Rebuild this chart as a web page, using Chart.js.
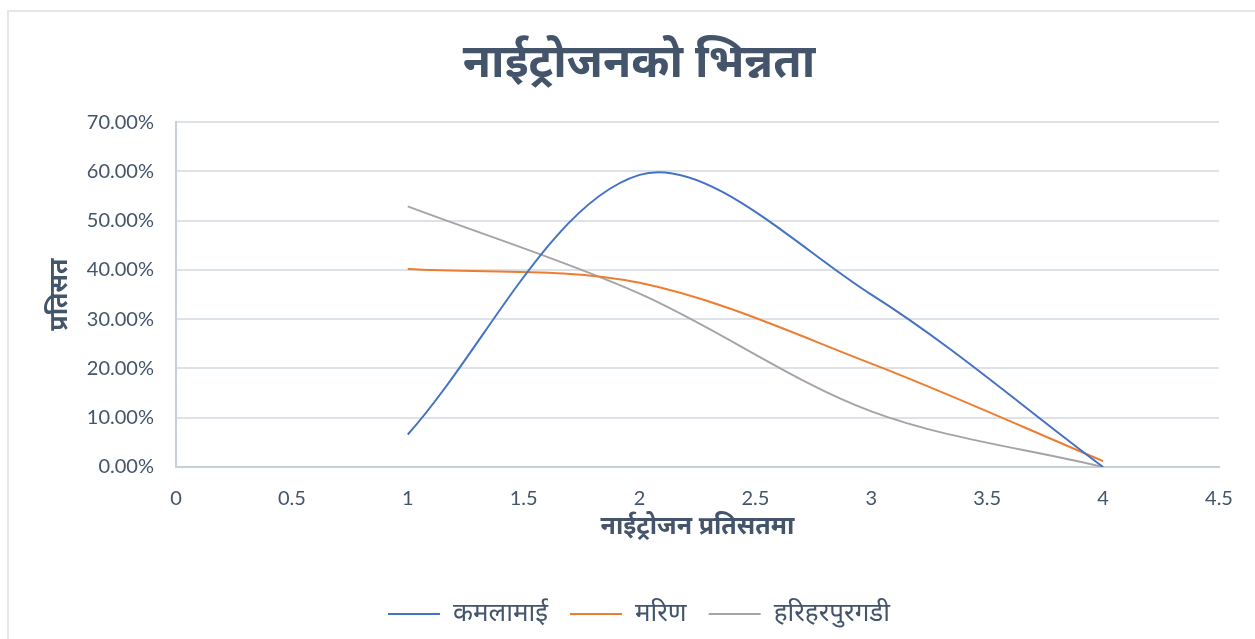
<!DOCTYPE html>
<html>
<head>
<meta charset="utf-8">
<script src="https://cdn.jsdelivr.net/npm/chart.js@4.4.0/dist/chart.umd.min.js"></script>
<style>
  html, body { margin: 0; padding: 0; background: #fff; overflow: hidden; }
  #wrap { position: absolute; left: 0; top: 0; width: 1255px; height: 639px; }
  #frame { position: absolute; left: 7px; top: 10px; width: 1300px; height: 700px; border: 2px solid #E3E6EA; }
</style>
</head>
<body>
<div id="wrap">
  <div id="frame"></div>
  <canvas id="chart1" width="1255" height="639"></canvas>
</div>
<script>
// नाईट्रोजन प्रतिसत (x) र प्रतिसत मान (y)
var nitrogen = [1, 2, 3, 4];
var kamalamai = [6.6, 59.3, 35.0, 0];
var marin = [40.2, 37.4, 21.0, 1.2];
var hariharpurgadi = [52.9, 35.2, 11.3, 0];

var seriesNames = ['कमलामाई', 'मरिण', 'हरिहरपुरगडी'];
var seriesColors = ['#4472C4', '#ED7D31', '#A5A5A5'];
var yTicks = [0, 10, 20, 30, 40, 50, 60, 70];

var textColor = '#44546A';
var devFont = "'Noto Sans', 'Noto Sans Devanagari', sans-serif";
var numFont = "Lato, 'Open Sans', sans-serif";

function points(ys) {
    return nitrogen.map(function (x, i) { return { x: x, y: ys[i] }; });
}

document.addEventListener('DOMContentLoaded', function () {
    var ctx = document.getElementById('chart1').getContext('2d');
    var all = [kamalamai, marin, hariharpurgadi];

    var chart = new Chart(ctx, {
        type: 'line',
        data: {
            datasets: all.map(function (ys, i) {
                return {
                    label: seriesNames[i],
                    data: points(ys),
                    borderColor: seriesColors[i],
                    backgroundColor: seriesColors[i],
                    borderWidth: 2,
                    pointRadius: 0,
                    pointStyle: 'line',
                    tension: 0.33,
                    fill: false
                };
            })
        },
        options: {
            responsive: false,
            animation: false,
            // बायाँ padding ले शीर्षक र legend लाई बीचमा राख्छ
            layout: { padding: { left: 59, right: 36, top: 0, bottom: 2 } },
            plugins: {
                title: {
                    display: true,
                    text: 'नाईट्रोजनको भिन्नता',
                    color: textColor,
                    font: { family: devFont, size: 46, weight: 'bold' },
                    padding: { top: 36, bottom: 31 }
                },
                legend: {
                    position: 'bottom',
                    labels: {
                        usePointStyle: true,
                        pointStyleWidth: 52,
                        boxHeight: 2,
                        color: textColor,
                        font: { family: devFont, size: 26 },
                        padding: 22
                    }
                },
                tooltip: { enabled: false }
            },
            scales: {
                x: {
                    type: 'linear',
                    min: 0,
                    max: 4.5,
                    grid: { display: false, drawTicks: false },
                    border: { display: true, color: '#C9CFD9', width: 2 },
                    ticks: {
                        stepSize: 0.5,
                        color: textColor,
                        font: { family: numFont, size: 20 },
                        padding: 20,
                        callback: function (v) { return String(v); }
                    },
                    title: {
                        display: true,
                        text: 'नाईट्रोजन प्रतिसतमा',
                        color: textColor,
                        font: { family: devFont, size: 25, weight: 'bold' },
                        padding: { top: 0, bottom: 37 }
                    },
                    afterFit: function (scale) { scale.height = 112; }
                },
                y: {
                    min: 0,
                    max: 70,
                    afterBuildTicks: function (scale) {
                        scale.ticks = yTicks.map(function (v) { return { value: v }; });
                    },
                    grid: { color: '#DDE1E8', lineWidth: 2, drawTicks: false },
                    border: { display: true, color: '#C9CFD9', width: 2 },
                    ticks: {
                        color: textColor,
                        font: { family: numFont, size: 20 },
                        padding: 22,
                        callback: function (v) { return v.toFixed(2) + '%'; }
                    },
                    title: {
                        display: true,
                        text: 'प्रतिसत',
                        color: textColor,
                        font: { family: devFont, size: 25, weight: 'bold' },
                        padding: { top: -14, bottom: 0 }
                    },
                    afterFit: function (scale) { scale.width = 117; }
                }
            }
        }
    });
});
</script>
</body>
</html>
